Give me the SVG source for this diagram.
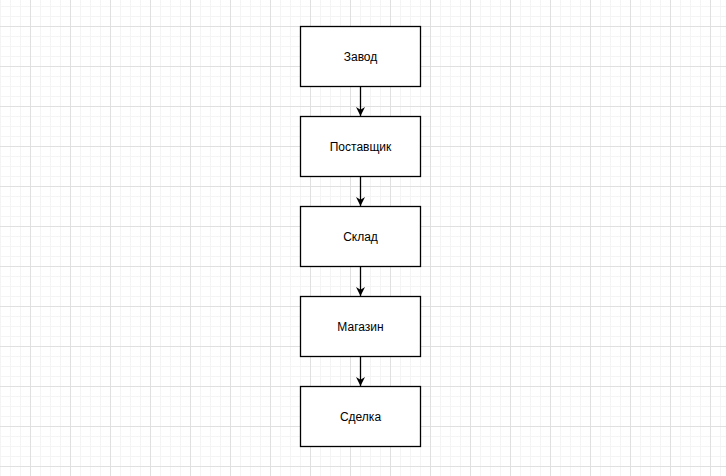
<svg xmlns="http://www.w3.org/2000/svg" width="726" height="476" viewBox="0 0 726 476">
<defs>
<pattern id="minor" x="0" y="6" width="10" height="10" patternUnits="userSpaceOnUse">
<path d="M0 0.5H10M0.5 0V10" fill="none" stroke="#f4f4f4" stroke-width="1"/>
</pattern>
<pattern id="major" x="30" y="26" width="40" height="40" patternUnits="userSpaceOnUse">
<path d="M0 0.5H40M0.5 0V40" fill="none" stroke="#e0e0e0" stroke-width="1"/>
</pattern>
<marker id="arr" viewBox="0 0 10 10" refX="10" refY="5" markerWidth="9" markerHeight="9" markerUnits="userSpaceOnUse" orient="auto">
<path d="M0 0L10 5L0 10L3 5Z" fill="#000"/>
</marker>
</defs>
<style>
.box rect{fill:#fff;stroke:#000;stroke-width:1.3}
.box text{font-family:"Liberation Sans",Arial,sans-serif;font-size:12px;fill:#000;text-anchor:middle;dominant-baseline:central}
.conn line{stroke:#000;stroke-width:1.3;marker-end:url(#arr)}
</style>
<rect width="726" height="476" fill="#fff"/>
<rect width="726" height="476" fill="url(#minor)"/>
<rect width="726" height="476" fill="url(#major)"/>
<g class="conn" id="connectors">
<line x1="360.5" y1="86" x2="360.5" y2="116"/>
<line x1="360.5" y1="176" x2="360.5" y2="206"/>
<line x1="360.5" y1="266" x2="360.5" y2="296"/>
<line x1="360.5" y1="356" x2="360.5" y2="386"/>
</g>
<g class="box" id="n1"><rect x="300.5" y="26.5" width="120" height="60"/><text x="360.5" y="56.5">Завод</text></g>
<g class="box" id="n2"><rect x="300.5" y="116.5" width="120" height="60"/><text x="360.5" y="146.5">Поставщик</text></g>
<g class="box" id="n3"><rect x="300.5" y="206.5" width="120" height="60"/><text x="360.5" y="236.5">Склад</text></g>
<g class="box" id="n4"><rect x="300.5" y="296.5" width="120" height="60"/><text x="360.5" y="326.5">Магазин</text></g>
<g class="box" id="n5"><rect x="300.5" y="386.5" width="120" height="60"/><text x="360.5" y="416.5">Сделка</text></g>
</svg>
